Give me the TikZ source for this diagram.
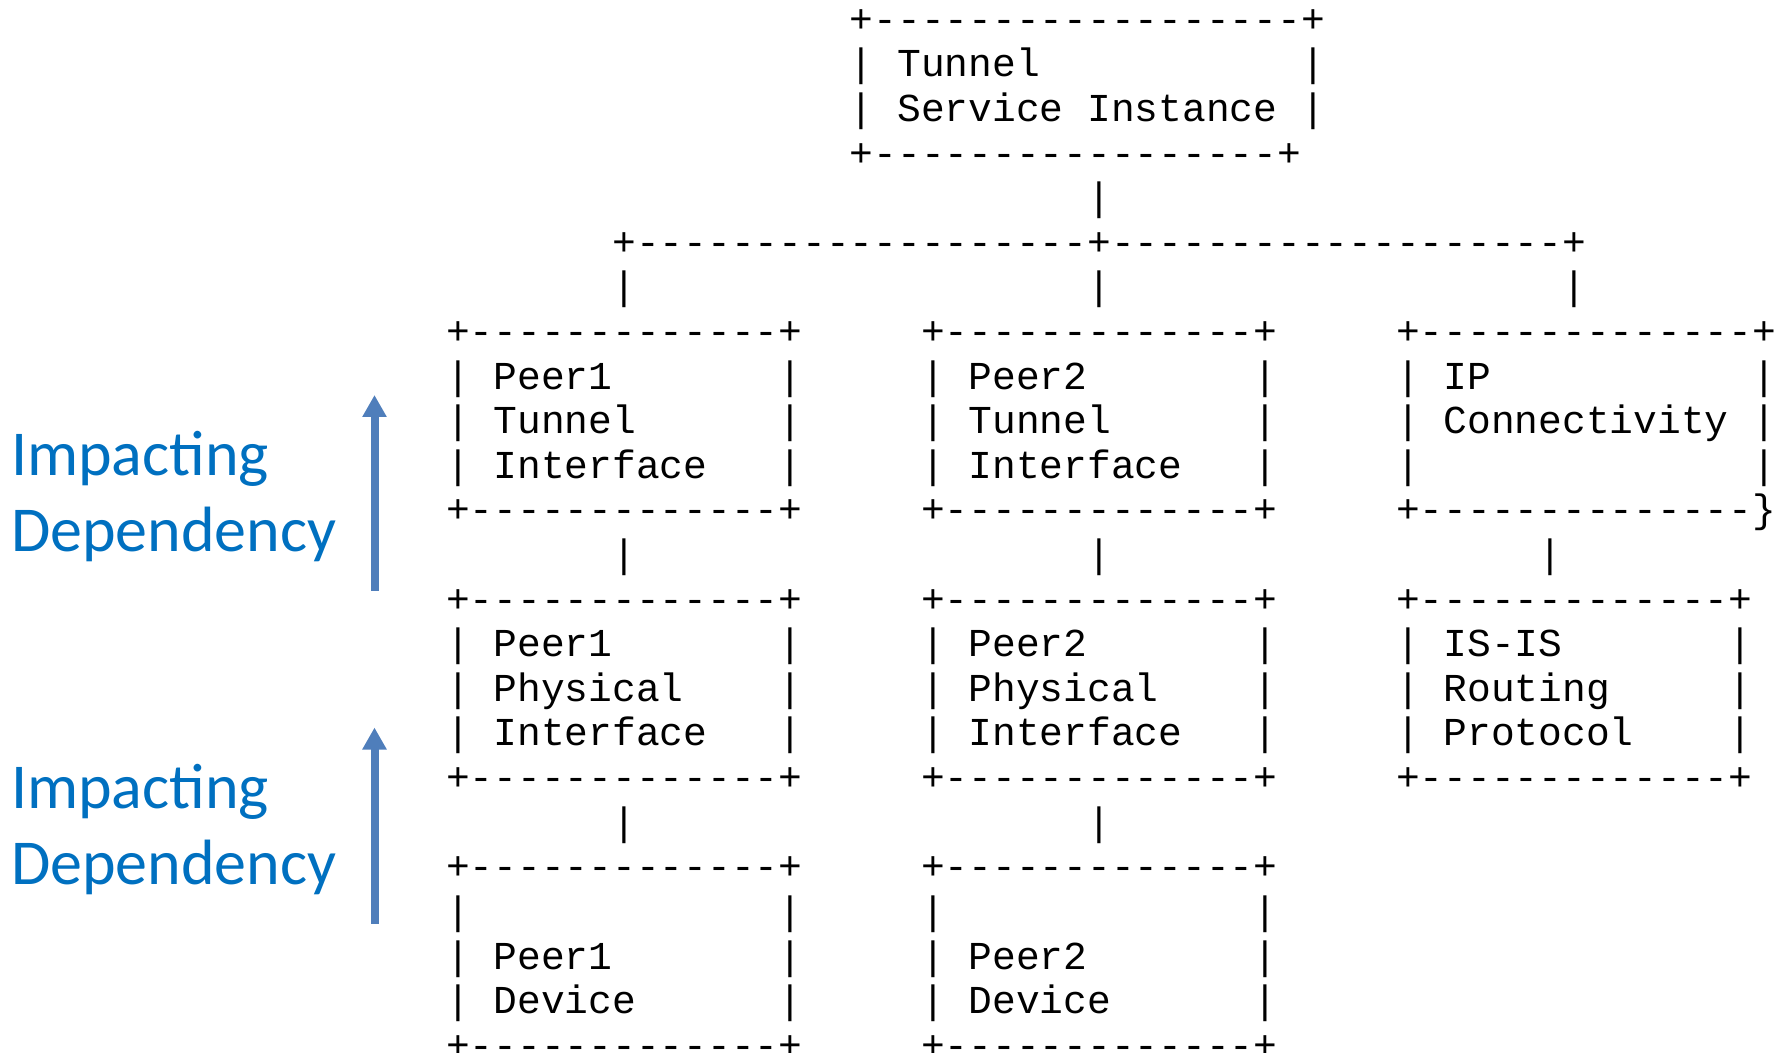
\documentclass[tikz,border=0pt]{standalone}
\usepackage{fontspec}
\newfontfamily\asciifont{Liberation Mono}[Ligatures=TeXOff]
\newfontfamily\labelfont{Carlito}
\usetikzlibrary{arrows.meta}
\definecolor{labelblue}{HTML}{0070C0}
\definecolor{arrowblue}{HTML}{4F7EBB}

% one monospaced text run placed on the character grid (column, row)
\newcommand\gridtext[4]{%
  \node[ascii] (#1) at ({446.125+23.75*(#2)},{32.2+44.61*(#3)}) {#4};}

\tikzset{
  ascii/.style={anchor=base west, inner sep=0pt, outer sep=0pt,
    font=\asciifont\fontsize{19.79pt}{20pt}\selectfont, text=black},
  deplabel/.style={anchor=base west, inner sep=0pt, outer sep=0pt,
    font=\labelfont\fontsize{32pt}{38pt}\selectfont, text=labelblue},
  deparrow/.style={draw=arrowblue, line width=4pt,
    -{Triangle[width=11.5pt,length=11pt,fill=arrowblue]}},
}

\begin{document}
\begin{tikzpicture}[x=0.5pt,y=-0.5pt]
\useasboundingbox (0,0) rectangle (1788,1053);
\clip (0,0) rectangle (1788,1053);

% ---- Tunnel Service Instance
\gridtext{tsiTop}{17}{0}{+------------------+}
\gridtext{tsiL1}{17}{1}{|}
\gridtext{tsiT1}{19}{1}{Tunnel}
\gridtext{tsiR1}{36}{1}{|}
\gridtext{tsiL2}{17}{2}{|}
\gridtext{tsiT2}{19}{2}{Service Instance}
\gridtext{tsiR2}{36}{2}{|}
\gridtext{tsiBot}{17}{3}{+-----------------+}

% ---- fan-out
\gridtext{fanStem}{27}{4}{|}
\gridtext{fanBar}{7}{5}{+-------------------+-------------------+}
\gridtext{fanA}{7}{6}{|}
\gridtext{fanB}{27}{6}{|}
\gridtext{fanC}{47}{6}{|}

% ---- tunnel interfaces and IP connectivity
\gridtext{p1tTop}{0}{7}{+-------------+}
\gridtext{p2tTop}{20}{7}{+-------------+}
\gridtext{ipTop}{40}{7}{+--------------+}

\gridtext{p1tL1}{0}{8}{|}
\gridtext{p1tT1}{2}{8}{Peer1}
\gridtext{p1tR1}{14}{8}{|}
\gridtext{p2tL1}{20}{8}{|}
\gridtext{p2tT1}{22}{8}{Peer2}
\gridtext{p2tR1}{34}{8}{|}
\gridtext{ipL1}{40}{8}{|}
\gridtext{ipT1}{42}{8}{IP}
\gridtext{ipR1}{55}{8}{|}

\gridtext{p1tL2}{0}{9}{|}
\gridtext{p1tT2}{2}{9}{Tunnel}
\gridtext{p1tR2}{14}{9}{|}
\gridtext{p2tL2}{20}{9}{|}
\gridtext{p2tT2}{22}{9}{Tunnel}
\gridtext{p2tR2}{34}{9}{|}
\gridtext{ipL2}{40}{9}{|}
\gridtext{ipT2}{42}{9}{Connectivity}
\gridtext{ipR2}{55}{9}{|}

\gridtext{p1tL3}{0}{10}{|}
\gridtext{p1tT3}{2}{10}{Interface}
\gridtext{p1tR3}{14}{10}{|}
\gridtext{p2tL3}{20}{10}{|}
\gridtext{p2tT3}{22}{10}{Interface}
\gridtext{p2tR3}{34}{10}{|}
\gridtext{ipL3}{40}{10}{|}
\gridtext{ipR3}{55}{10}{|}

\gridtext{p1tBot}{0}{11}{+-------------+}
\gridtext{p2tBot}{20}{11}{+-------------+}
\gridtext{ipBot}{40}{11}{+--------------\}}

\gridtext{linkA}{7}{12}{|}
\gridtext{linkB}{27}{12}{|}
\gridtext{linkC}{46}{12}{|}

% ---- physical interfaces and IS-IS
\gridtext{p1pTop}{0}{13}{+-------------+}
\gridtext{p2pTop}{20}{13}{+-------------+}
\gridtext{isTop}{40}{13}{+-------------+}

\gridtext{p1pL1}{0}{14}{|}
\gridtext{p1pT1}{2}{14}{Peer1}
\gridtext{p1pR1}{14}{14}{|}
\gridtext{p2pL1}{20}{14}{|}
\gridtext{p2pT1}{22}{14}{Peer2}
\gridtext{p2pR1}{34}{14}{|}
\gridtext{isL1}{40}{14}{|}
\gridtext{isT1}{42}{14}{IS-IS}
\gridtext{isR1}{54}{14}{|}

\gridtext{p1pL2}{0}{15}{|}
\gridtext{p1pT2}{2}{15}{Physical}
\gridtext{p1pR2}{14}{15}{|}
\gridtext{p2pL2}{20}{15}{|}
\gridtext{p2pT2}{22}{15}{Physical}
\gridtext{p2pR2}{34}{15}{|}
\gridtext{isL2}{40}{15}{|}
\gridtext{isT2}{42}{15}{Routing}
\gridtext{isR2}{54}{15}{|}

\gridtext{p1pL3}{0}{16}{|}
\gridtext{p1pT3}{2}{16}{Interface}
\gridtext{p1pR3}{14}{16}{|}
\gridtext{p2pL3}{20}{16}{|}
\gridtext{p2pT3}{22}{16}{Interface}
\gridtext{p2pR3}{34}{16}{|}
\gridtext{isL3}{40}{16}{|}
\gridtext{isT3}{42}{16}{Protocol}
\gridtext{isR3}{54}{16}{|}

\gridtext{p1pBot}{0}{17}{+-------------+}
\gridtext{p2pBot}{20}{17}{+-------------+}
\gridtext{isBot}{40}{17}{+-------------+}

\gridtext{linkD}{7}{18}{|}
\gridtext{linkE}{27}{18}{|}

% ---- devices
\gridtext{p1dTop}{0}{19}{+-------------+}
\gridtext{p2dTop}{20}{19}{+-------------+}

\gridtext{p1dL0}{0}{20}{|}
\gridtext{p1dR0}{14}{20}{|}
\gridtext{p2dL0}{20}{20}{|}
\gridtext{p2dR0}{34}{20}{|}

\gridtext{p1dL1}{0}{21}{|}
\gridtext{p1dT1}{2}{21}{Peer1}
\gridtext{p1dR1}{14}{21}{|}
\gridtext{p2dL1}{20}{21}{|}
\gridtext{p2dT1}{22}{21}{Peer2}
\gridtext{p2dR1}{34}{21}{|}

\gridtext{p1dL2}{0}{22}{|}
\gridtext{p1dT2}{2}{22}{Device}
\gridtext{p1dR2}{14}{22}{|}
\gridtext{p2dL2}{20}{22}{|}
\gridtext{p2dT2}{22}{22}{Device}
\gridtext{p2dR2}{34}{22}{|}

\gridtext{p1dBot}{0}{23}{+-------------+}
\gridtext{p2dBot}{20}{23}{+-------------+}

% ---- impact direction labels and arrows
\node[deplabel] (impA) at (11,475) {Impacting};
\node[deplabel] (depA) at (11,551) {Dependency};
\node[deplabel] (impB) at (11,808) {Impacting};
\node[deplabel] (depB) at (11,884) {Dependency};

\coordinate (arrowAtail) at (374.5,590.7);
\coordinate (arrowAhead) at (374.5,395);
\coordinate (arrowBtail) at (374.5,923.5);
\coordinate (arrowBhead) at (374.5,727.5);
\draw[deparrow] (arrowAtail) -- (arrowAhead);
\draw[deparrow] (arrowBtail) -- (arrowBhead);
\end{tikzpicture}
\end{document}
